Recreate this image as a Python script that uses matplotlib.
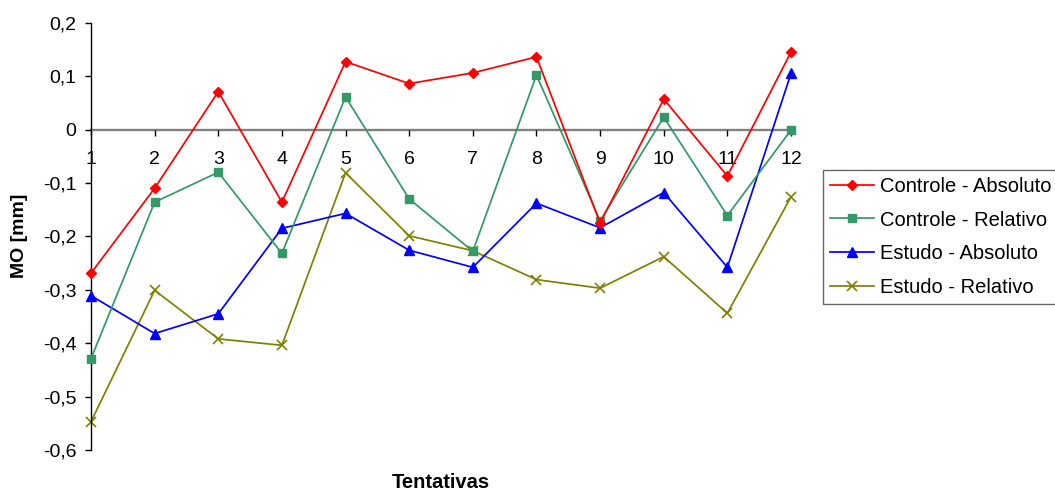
import matplotlib
matplotlib.use("Agg")
import matplotlib.pyplot as plt

plt.rcParams['font.family'] = ['Liberation Sans', 'DejaVu Sans']

tentativas = [1, 2, 3, 4, 5, 6, 7, 8, 9, 10, 11, 12]
controle_absoluto = [-0.269, -0.110, 0.071, -0.136, 0.127, 0.086, 0.106, 0.136, -0.175, 0.057, -0.087, 0.145]
controle_relativo = [-0.429, -0.136, -0.080, -0.232, 0.061, -0.130, -0.228, 0.102, -0.171, 0.023, -0.161, -0.001]
estudo_absoluto = [-0.311, -0.382, -0.345, -0.185, -0.157, -0.226, -0.258, -0.138, -0.184, -0.118, -0.258, 0.105]
estudo_relativo = [-0.547, -0.301, -0.392, -0.404, -0.081, -0.199, -0.227, -0.281, -0.297, -0.238, -0.344, -0.126]

ytick_values = [0.2, 0.1, 0.0, -0.1, -0.2, -0.3, -0.4, -0.5, -0.6]
ytick_labels = ["0,2", "0,1", "0", "-0,1", "-0,2", "-0,3", "-0,4", "-0,5", "-0,6"]

W, H = 1055, 492
fig = plt.figure(figsize=(W / 100, H / 100), dpi=100)
ax_left, ax_right, ax_top, ax_bottom = 91, 791, 22.7, 450
ax = fig.add_axes([ax_left / W, 1 - ax_bottom / H, (ax_right - ax_left) / W, (ax_bottom - ax_top) / H])

lw = 1.25
ax.plot(tentativas, controle_absoluto, color='#FF0000', marker='D', ms=5.4, lw=lw,
        label='Controle - Absoluto', clip_on=False, zorder=5)
ax.plot(tentativas, controle_relativo, color='#339966', marker='s', ms=6.3, lw=lw,
        label='Controle - Relativo', clip_on=False, zorder=4)
ax.plot(tentativas, estudo_absoluto, color='#0000FF', marker='^', ms=7.8, lw=lw,
        label='Estudo - Absoluto', clip_on=False, zorder=3)
ax.plot(tentativas, estudo_relativo, color='#808000', marker='x', ms=7.5, mew=1.2, lw=lw,
        label='Estudo - Relativo', clip_on=False, zorder=2)

ax.set_xlim(1, 12)
ax.set_ylim(-0.6, 0.2)
ax.set_yticks(ytick_values)
ax.set_yticklabels(ytick_labels)
ax.set_xticks(tentativas)
ax.set_xticklabels([str(t) for t in tentativas])

for s in ['top', 'right']:
    ax.spines[s].set_visible(False)
ax.spines['bottom'].set_position(('data', 0))
ax.spines['bottom'].set_color('#808080')
ax.spines['bottom'].set_linewidth(1.7)
ax.spines['bottom'].set_zorder(1)
ax.spines['left'].set_color('black')
ax.spines['left'].set_linewidth(1.0)

ax.tick_params(axis='y', direction='out', length=4.5, width=1.0, pad=6, labelsize=14, colors='black')
ax.tick_params(axis='x', direction='out', length=4.5, width=1.0, pad=11, labelsize=14, color='black')

fig.text(19.5 / W, 1 - 236 / H, 'MO [mm]', rotation=90, ha='center', va='center',
         fontsize=14, fontweight='bold')
fig.text(441 / W, 1 - 488 / H, 'Tentativas', ha='center', va='baseline',
         fontsize=14.5, fontweight='bold')

leg = fig.legend(loc='upper left', bbox_to_anchor=(822.7 / W, 1 - 170 / H), borderaxespad=0,
                 fontsize=14.5, frameon=True, fancybox=False, handlelength=2.2,
                 handletextpad=0.3, borderpad=0.35, labelspacing=0.72)
leg.get_frame().set_edgecolor('#404040')
leg.get_frame().set_linewidth(1.0)

fig.savefig('out.png', dpi=100)
